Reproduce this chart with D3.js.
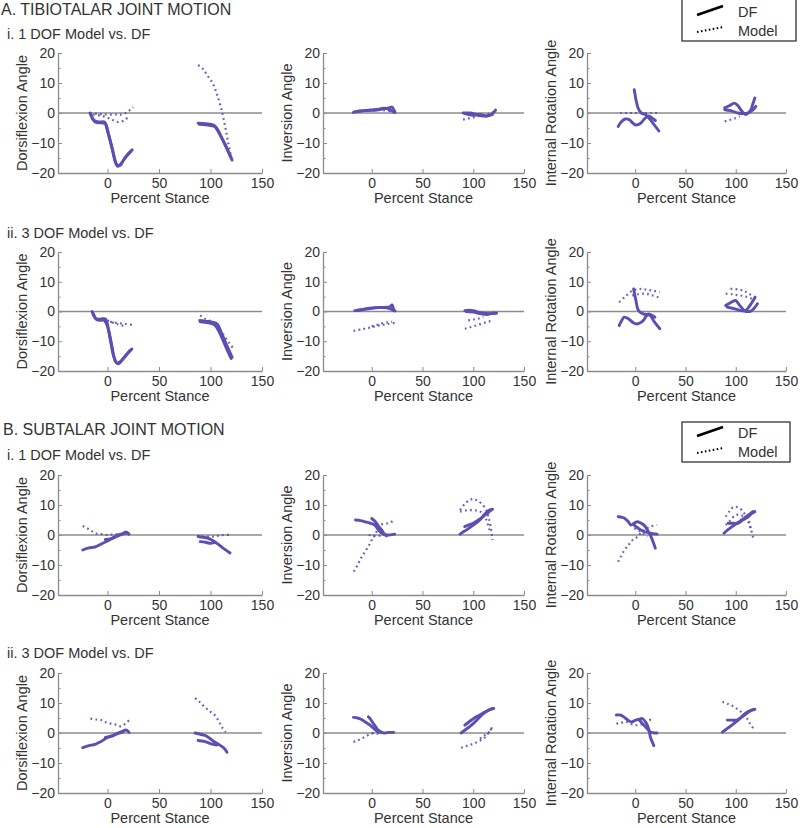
<!DOCTYPE html>
<html><head><meta charset="utf-8">
<script src="https://cdn.jsdelivr.net/npm/d3@7"></script>
<style>
body{margin:0;background:#fff;}
svg{display:block;font-family:"Liberation Sans",Arial,sans-serif;}
</style></head>
<body><svg id="c" width="800" height="828"></svg>
<script>
// ---------- tick labels / axis labels ----------
const xTicks = [0, 50, 100, 150];
const yTicks = [-20, -10, 0, 10, 20];
const yMinorTicks = [-15, -5, 5, 15];
const xLabel = "Percent Stance";
const yLabels = ["Dorsiflexion Angle", "Inversion Angle", "Internal Rotation Angle"];
const sectionTitles = ["A. TIBIOTALAR JOINT MOTION", "B. SUBTALAR JOINT MOTION"];
const rowTitles = ["i. 1 DOF Model vs. DF", "ii. 3 DOF Model vs. DF", "i. 1 DOF Model vs. DF", "ii. 3 DOF Model vs. DF"];
const legendLabels = ["DF", "Model"];

// ---------- data: each array = list of curves [[percent stance, angle], ...] ----------
// A. Tibiotalar, i. 1 DOF
const tibio1DorsDF = [
  [[-17,0],[-13,-2.5],[-8,-3],[-3,-3],[0,-6],[4,-11],[8,-16.5],[10,-17.8],[13,-17],[18,-14.5],[24,-12.3]],
  [[-16,-0.5],[-12,-3],[-6,-3.3],[-2,-3.5],[1,-7],[5,-12.5],[9,-17.3],[12,-17.5],[16,-15.5],[22,-13]],
  [[88,-3.4],[95,-3.6],[103,-4],[106,-5],[112,-9],[117,-12.5],[121,-15.7]],
  [[89,-3.8],[97,-4],[104,-4.5],[108,-6.5],[114,-10.5],[120,-15]]
];
const tibio1DorsModel = [
  [[-17,0],[-8,-0.3],[0,-0.5],[8,-0.5],[14,-0.5],[20,0.5],[25,2]],
  [[-14,-0.5],[-5,-1],[3,-2],[10,-3],[16,-2.5],[21,-1]],
  [[88,16],[93,14.5],[98,12],[102,10],[106,6.5],[110,2],[114,-4],[117,-9.5],[120,-14.5]]
];
const tibio1InvDF = [
  [[-18,0.2],[-10,0.7],[-2,1],[5,1.2],[12,1.4],[18,1.8],[20,2],[23,0.2]],
  [[-15,0.5],[-5,0.8],[5,1],[12,1.6],[17,1.2],[22,0.2]],
  [[90,0],[97,0],[103,-0.5],[110,-1],[116,-0.8],[121,0.5],[122,1]],
  [[92,-0.2],[100,-0.8],[107,-0.5],[113,-1],[119,-0.5]]
];
const tibio1InvModel = [
  [[-18,0.5],[-10,0.8],[0,0.8],[10,1],[20,0.5]],
  [[90,-2.2],[95,-1.8],[100,-1.5],[106,-1],[112,-0.5],[118,0],[121,0.5]]
];
const tibio1RotDF = [
  [[-1,7.8],[1,4],[3,1.5],[6,0],[10,-0.5],[15,-2.2],[19,-4],[23.5,-6]],
  [[-17,-4.5],[-14,-3],[-10,-2],[-6,-2.2],[-2,-3.5],[1,-4],[5,-3.5],[9,-2],[13,-1],[16,-1.5],[20,-2.5]],
  [[89,1.7],[94,2.5],[98.7,3.3],[102,2.5],[105,1.1],[110,-0.5],[115,1.1],[117,3],[119,5]],
  [[89,1.1],[95,0.8],[102,0],[108,-0.2],[112,0],[117,1],[120,2.2]]
];
const tibio1RotModel = [
  [[-15,0],[-5,0],[5,0],[15,0],[25,0]],
  [[89,-2.8],[94,-2.3],[99,-1.8],[104,-1.1]]
];
// A. Tibiotalar, ii. 3 DOF
const tibio3DorsDF = [
  [[-15,0],[-11,-2.5],[-6,-2.5],[-2,-2.5],[1,-6],[4,-11],[7.5,-16.5],[10.7,-17.6],[15,-16],[20,-14],[23.7,-12.6]],
  [[-14,-0.5],[-10,-2.8],[-3,-3],[0,-5],[3,-10],[6,-15],[9,-17.3],[12,-17],[17,-15],[22,-13]],
  [[89.6,-3],[96,-3.3],[101.6,-3.6],[106.5,-4.2],[111,-7.5],[116,-11.5],[121,-15.4]],
  [[90,-3.5],[98,-3.8],[104,-4.5],[110,-8],[115,-12],[120,-15.8]]
];
const tibio3DorsModel = [
  [[-7,-3],[-2,-3.2],[3,-3.5],[8,-3.8],[13,-4],[18,-4.2],[24,-4.5]],
  [[0,-3],[10,-4.3],[18,-5]],
  [[90,-1.3],[95,-2.5],[100,-3.2],[103,-3.6],[108,-5.5],[113,-8],[118,-10.5],[122.7,-12.6]]
];
const tibio3InvDF = [
  [[-16.7,0.3],[-10,0.6],[-6.7,0.9],[3.3,1.3],[13,1.4],[18,1.6],[20,2.2],[21.7,0.3]],
  [[-14,0.4],[-3,0.9],[7,1.3],[15,1.2],[23,0.2]],
  [[91.7,0.3],[96,0.4],[100,0.3],[105,-0.2],[110,-0.6],[116,-0.7],[123,-0.6]],
  [[93,0],[100,-0.2],[108,-0.8],[114,-1],[120,-0.5]]
];
const tibio3InvModel = [
  [[-18,-6.5],[-10,-6],[-3,-5.5],[3,-5],[10,-4.5],[16,-4.2],[23,-3.8]],
  [[0,-5],[5,-4.5],[10,-4],[15,-3.7],[20,-3.5]],
  [[91.7,-5.8],[97,-5.3],[103,-4.7],[109,-4],[115,-3.4],[120,-3]],
  [[95,-3],[100,-2.7],[105,-2.4],[110,-1.9]]
];
const tibio3RotDF = [
  [[-1.6,7.6],[0.5,4],[3.3,0.3],[8,-0.8],[14.7,-1.3],[19,-3.5],[24.5,-5.8]],
  [[-16,-4.7],[-13,-2.8],[-11,-1.9],[-6.5,-2.5],[-2,-3.8],[1.6,-4.2],[5,-3.8],[8,-3],[11,-1.5],[13,-0.8],[16,-1.2],[19.6,-1.9]],
  [[90,2],[95,3],[99.7,3.7],[104,2],[109.5,0.3],[113,1.5],[117,3.5],[119.3,4.8]],
  [[91.5,1.5],[100,0.8],[107,0.2],[114,0],[118,1],[121.6,2.6]]
];
const tibio3RotModel = [
  [[-16,3.1],[-10,5],[-3,7],[3,7.5],[6.5,7.6],[12,7.3],[18,7],[24.5,6.5]],
  [[-3,5.4],[3,5.8],[10,6],[16,5.5],[23,4.8]],
  [[94.8,7.6],[100,7.5],[104,7.3],[107.8,7],[113,6],[119.3,4.8]],
  [[90,6],[96,5.8],[100,5.6],[104.6,5.4],[110,5],[116,4.3]]
];
// B. Subtalar, i. 1 DOF
const sub1DorsDF = [
  [[-24,-5],[-18,-4.3],[-12,-4],[-6,-3],[0,-2],[5,-1],[10,0],[15,0.5],[18,1],[21,0.3]],
  [[-2,-1.5],[4,-1.2],[9,-0.5],[14,0.2],[19,0.6]],
  [[88,-0.5],[93,-0.8],[97,-1],[103,-2],[109,-3.5],[114,-4.8],[119,-6]],
  [[90,-2.2],[95,-2.4],[100,-2.8],[104,-2.5]]
];
const sub1DorsModel = [
  [[-24,3],[-20,2.3],[-16,1.5],[-12,0.6],[-6,0.3],[0,0],[6,0.2],[12,0.3],[18,0.6]],
  [[87,-0.3],[93,-0.5],[98,-0.5],[103,-0.5],[108,-0.2],[113,0],[119,0]]
];
const sub1InvDF = [
  [[-16,5],[-11,4.8],[-6.5,4.4],[-2,4],[3.2,3.3],[6,2],[9.7,0.6],[13,0.1],[16,0],[22.6,0.3]],
  [[0,5.5],[2.5,4.8],[4.8,3.9],[7,2.8],[9.7,1.7],[12,0.5],[14.5,-0.3]],
  [[87,0.3],[90,1],[93.5,1.7],[100,3.3],[106.5,5],[111,6.8],[116,8.3],[119,8.6]],
  [[91.6,2.8],[95,3.3],[100,3.9],[105,5],[109.7,6.1],[114,7.3],[117.7,8.3]]
];
const sub1InvModel = [
  [[-17.7,-12.2],[-14,-10],[-9.7,-7.2],[-5.5,-5],[-1.6,-2.8],[1,-1],[3.2,0],[5.5,1.7],[8,3.3],[12,3.7],[16,3.9],[19,4.3],[22.6,5]],
  [[-3,0],[2,-0.2],[6.5,-0.3],[11,0],[16,0]],
  [[87,8.3],[92,10.5],[96.8,11.7],[100,12],[103,11.7],[108,10.5],[112.9,8.3],[115,6],[117,3],[119,-1.7]],
  [[87,7.8],[93,8.2],[100,8.3],[105,8],[109.7,7.2],[113,5],[116,1.7]]
];
const sub1RotDF = [
  [[-17,6.1],[-13,5.9],[-10.7,5.6],[-7,4.5],[-4.2,3.3],[-1,4],[2.3,4.4],[5.5,4],[8.8,3.3],[12,1.7],[15,0],[18,-2.5],[20,-4.4]],
  [[-1,3.3],[2,2.5],[5.5,1.7],[10,1],[15,0.6],[21.8,0.3]],
  [[88.3,0.6],[92,1.7],[96.4,2.8],[101,3.9],[106,5],[111,6.3],[115,7.3],[117.5,7.8]],
  [[92.5,3.9],[97,3.9],[102,3.9],[107,5],[112.7,6.1],[116,7.2],[119,7.8]]
];
const sub1RotModel = [
  [[-17,-8.9],[-14,-7],[-10.7,-5],[-7,-3.5],[-4.2,-2.2],[-1,-1.2],[2.3,-0.6],[5,0.5],[8.8,1.7],[12,2.3],[15,2.8],[18,3.1],[21.8,3.3]],
  [[-1,2.2],[2,1.8],[5.5,1.1],[9,0.2],[12,-0.6]],
  [[90,6.1],[94,8],[98,9.4],[102,9.2],[106,8.3],[110,6.5],[112.7,5],[115,2],[117.5,-1.1]],
  [[90,3.3],[95,5],[100,6.7],[105,6.5],[109.4,6.1],[113,4],[116,1.1]]
];
// B. Subtalar, ii. 3 DOF
const sub3DorsDF = [
  [[-24,-4.9],[-18,-4.2],[-12,-3.8],[-6,-2.8],[0,-1.5],[6,-0.8],[10,0],[15,0.6],[18,1],[21,0.2]],
  [[-2,-1.5],[4,-1],[9,-0.3],[15,0.3]],
  [[85,0],[91,-0.5],[96,-1],[102,-2.5],[108,-3.8],[113,-5],[116,-6.4]],
  [[88,-2.5],[94,-2.8],[100.6,-3.6],[106,-4]]
];
const sub3DorsModel = [
  [[-16.5,4.8],[-11,4.5],[-5.6,4.3],[-1,3.5],[3.7,3.1],[8,2.8],[13,2.2],[17,3],[21,4.3]],
  [[85,11.6],[89,10.5],[94,8.8],[99,7.3],[104,6],[108,4],[111,2],[114.7,0.3]]
];
const sub3InvDF = [
  [[-18,5.2],[-14,5],[-10,4.5],[-6,3.6],[-1.7,2.6],[2,1.5],[5,0.7],[9,0.2],[13,0],[17,0.2],[21.7,0.2]],
  [[-3.3,5.4],[-1,4.5],[1.7,3.1],[4,2],[6.7,0.9],[10,0.2]],
  [[88,0],[92,1],[96,2],[100,3.1],[105,4.8],[110,6.5],[115,7.6],[120,8.2]],
  [[91.7,2.6],[97,4],[103,5.4],[110,6.7],[116.7,7.9],[120,8.2]]
];
const sub3InvModel = [
  [[-18,-3],[-14,-2.5],[-10,-1.8],[-6.7,-1.3],[-3,-0.6],[1.7,0]],
  [[0,0],[5,-0.2],[10,-0.3]],
  [[88,-4.9],[92,-4.5],[96,-4],[100,-3.6],[105,-2.8],[110,-1.9],[114,-0.5],[118,1.5]],
  [[106.7,-1.9],[111,-0.8],[116.7,0.7],[119,2.6]]
];
const sub3RotDF = [
  [[-18.8,6],[-15,6],[-12.3,5.6],[-8,4.5],[-4.2,3.7],[0.6,4.3],[4,4.6],[7,4.8],[10,3.8],[12,2.6],[14,0.5],[15,-1.3],[17,-3],[18.5,-4.2]],
  [[3.9,4.3],[7,3.2],[10.4,2],[13,1],[15,0.3],[18,0.1],[21.8,0]],
  [[86.7,0.3],[92,1.6],[98,3.1],[104,4.8],[109.4,6.5],[114,7.4],[119,7.9]],
  [[91.6,4.3],[96,4.3],[101,4.3],[106,5.3],[110.7,6.5],[115,7.5],[118,7.9]]
];
const sub3RotModel = [
  [[-18.8,3.1],[-14,3.4],[-9,3.7],[-5,3.2],[-1,2.6],[4,2.8],[8.8,3.1],[13,4],[17,4.8]],
  [[86.7,10.4],[92,9.7],[98,8.8],[103,7.6],[107.8,6.5],[111,5],[114,3.2],[117.5,1.5]]
];

const panelData = [
  [[tibio1DorsDF, tibio1DorsModel], [tibio1InvDF, tibio1InvModel], [tibio1RotDF, tibio1RotModel]],
  [[tibio3DorsDF, tibio3DorsModel], [tibio3InvDF, tibio3InvModel], [tibio3RotDF, tibio3RotModel]],
  [[sub1DorsDF, sub1DorsModel], [sub1InvDF, sub1InvModel], [sub1RotDF, sub1RotModel]],
  [[sub3DorsDF, sub3DorsModel], [sub3InvDF, sub3InvModel], [sub3RotDF, sub3RotModel]]
];

// ---------- layout ----------
const colX = [[58, 262], [323, 524], [587, 786]];
const rowY = [[53, 173], [252, 371], [475, 595], [673, 793]];
const lineColor = "#5a50b2";
const textColor = "#333333";
const axisColor = "#8c8c8c";
const fmt = d => d < 0 ? "\u2212" + Math.abs(d) : String(d);

const svg = d3.select("#c");

// titles
svg.append("text").attr("x", 1).attr("y", 15).text(sectionTitles[0])
  .attr("font-size", 16).attr("fill", textColor);
svg.append("text").attr("x", 3).attr("y", 435).text(sectionTitles[1])
  .attr("font-size", 16).attr("fill", textColor);
const rowTitleY = [39, 238, 460, 658];
rowTitles.forEach((t, i) => {
  svg.append("text").attr("x", 7).attr("y", rowTitleY[i]).text(t)
    .attr("font-size", 14.5).attr("fill", textColor);
});

const line = d3.line().curve(d3.curveCatmullRom.alpha(0.5));

panelData.forEach((row, ri) => {
  row.forEach((cell, ci) => {
    const x = d3.scaleLinear().domain([-48, 150]).range(colX[ci]);
    const y = d3.scaleLinear().domain([-20, 20]).range([rowY[ri][1], rowY[ri][0]]);
    const g = svg.append("g");

    // zero line
    g.append("line").attr("x1", x(-48)).attr("x2", x(150))
      .attr("y1", y(0)).attr("y2", y(0))
      .attr("stroke", axisColor).attr("stroke-width", 1.4);

    // axes
    g.append("g").attr("transform", `translate(0,${y(-20)})`)
      .call(d3.axisBottom(x).tickValues(xTicks).tickFormat(fmt).tickSizeInner(-4).tickSizeOuter(0).tickPadding(5));
    g.append("g").attr("transform", `translate(${x(-48)},0)`)
      .call(d3.axisLeft(y).tickValues(yTicks).tickFormat(fmt).tickSizeInner(-4).tickSizeOuter(0).tickPadding(3));
    g.append("g").attr("transform", `translate(${x(-48)},0)`)
      .call(d3.axisLeft(y).tickValues(yMinorTicks).tickFormat("").tickSizeInner(-2.5).tickSizeOuter(0))
      .select(".domain").remove();
    g.selectAll(".domain").attr("stroke", axisColor).attr("stroke-width", 1.3);
    g.selectAll(".tick line").attr("stroke", axisColor).attr("stroke-width", 1);
    g.selectAll(".tick text").attr("font-size", 14).attr("fill", textColor)
      .attr("font-family", '"Liberation Sans",Arial,sans-serif');

    // labels
    g.append("text").attr("x", (colX[ci][0] + colX[ci][1]) / 2).attr("y", y(-20) + 30)
      .attr("text-anchor", "middle").attr("font-size", 14.5).attr("fill", textColor).text(xLabel);
    g.append("text")
      .attr("transform", `translate(${x(-48) - 31},${y(0)}) rotate(-90)`)
      .attr("text-anchor", "middle").attr("font-size", 14.5).attr("fill", textColor).text(yLabels[ci]);

    // model (dotted)
    g.selectAll(null).data(cell[1]).enter().append("path")
      .attr("d", c => line(c.map(p => [x(p[0]), y(p[1])])))
      .attr("fill", "none").attr("stroke", lineColor).attr("stroke-width", 2.2)
      .attr("stroke-dasharray", "1.8 3.2").attr("opacity", 0.9);
    // DF (solid)
    g.selectAll(null).data(cell[0]).enter().append("path")
      .attr("d", c => line(c.map(p => [x(p[0]), y(p[1])])))
      .attr("fill", "none").attr("stroke", lineColor).attr("stroke-width", 2.9)
      .attr("stroke-linecap", "round").attr("stroke-linejoin", "round");
  });
});

// legends
function legend(x0, y0, w, h, yDF, yModel) {
  const g = svg.append("g");
  g.append("rect").attr("x", x0).attr("y", y0).attr("width", w).attr("height", h)
    .attr("fill", "#fff").attr("stroke", "#333").attr("stroke-width", 1.3);
  g.append("line").attr("x1", 697).attr("y1", yDF + 3).attr("x2", 723).attr("y2", yDF - 6)
    .attr("stroke", "#000").attr("stroke-width", 2.8);
  g.append("line").attr("x1", 697).attr("y1", yModel + 1).attr("x2", 723).attr("y2", yModel - 4)
    .attr("stroke", "#000").attr("stroke-width", 2).attr("stroke-dasharray", "1.6 2.4");
  g.append("text").attr("x", 738).attr("y", yDF + 5).attr("font-size", 14.5).attr("fill", textColor).text(legendLabels[0]);
  g.append("text").attr("x", 738).attr("y", yModel + 5).attr("font-size", 14.5).attr("fill", textColor).text(legendLabels[1]);
}
legend(682, -2, 114, 43, 12, 31);
legend(682, 422, 108, 40, 433, 452);
</script></body></html>
